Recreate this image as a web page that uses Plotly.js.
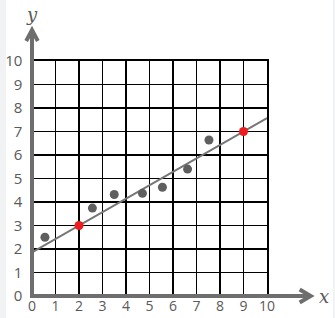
<!DOCTYPE html>
<html><head><meta charset="utf-8">
<script src="https://cdn.plot.ly/plotly-3.0.1.min.js"></script>
<style>
html,body{margin:0;padding:0;}
body{width:335px;height:318px;background:linear-gradient(to right,#f1f2f4 0,#f1f2f4 6px,#ffffff 6px,#ffffff 333px,#f1f2f4 333px);}
#chart{width:335px;height:318px;}
</style></head>
<body><div id="chart"></div>
<script>
// Data
const grayX = [0.55, 2.57, 3.5, 4.7, 5.55, 6.62, 7.53];
const grayY = [2.5, 3.74, 4.32, 4.37, 4.63, 5.4, 6.64];
const redX = [2, 9];
const redY = [3, 7];
const lineX = [0, 10];
const lineY = [1.857, 7.571];
const tickVals = [0,1,2,3,4,5,6,7,8,9,10];
const tickText = ['0','1','2','3','4','5','6','7','8','9','10'];

// Layout geometry (pixels)
const W = 335, H = 318;
const L = 32.3, R = 267.3, T = 61, B = 296;
const pw = R - L, ph = B - T;
const px = v => (v - L) / pw;
const py = v => (B - v) / ph;

const axisColor = '#6e6e6e';
const textColor = '#595959';

const traces = [
  {x: lineX, y: lineY, mode: 'lines', line: {color: '#767676', width: 2}, hoverinfo: 'skip', cliponaxis: true},
  {x: grayX, y: grayY, mode: 'markers', marker: {color: '#5f5f5f', size: 9}},
  {x: redX, y: redY, mode: 'markers', marker: {color: '#ee1c1c', size: 9}}
];

const axisCommon = {
  range: [0, 10], tickvals: tickVals, ticktext: tickText,
  showgrid: true, gridcolor: '#000000', gridwidth: 1.6,
  zeroline: false, showline: true, mirror: true, linecolor: '#000000', linewidth: 1.6,
  ticks: 'outside', ticklen: 5, tickcolor: 'rgba(0,0,0,0)',
  tickfont: {family: 'Open Sans, sans-serif', size: 15, color: textColor},
  fixedrange: true
};

const shapes = [
  // y axis line
  {type: 'line', xref: 'paper', yref: 'paper', x0: px(32.3), x1: px(32.3), y0: py(298), y1: py(30), line: {color: axisColor, width: 4}},
  // x axis line
  {type: 'line', xref: 'paper', yref: 'paper', x0: px(30.3), x1: px(311), y0: py(296), y1: py(296), line: {color: axisColor, width: 4}},
  // y arrow head
  {type: 'path', xref: 'paper', yref: 'paper',
   path: `M ${px(26.5)},${py(41)} L ${px(32.3)},${py(30)} L ${px(38.1)},${py(41)}`,
   line: {color: axisColor, width: 4}},
  // x arrow head
  {type: 'path', xref: 'paper', yref: 'paper',
   path: `M ${px(300)},${py(289.5)} L ${px(311)},${py(296)} L ${px(300)},${py(302.5)}`,
   line: {color: axisColor, width: 4}}
];

const annotations = [
  {xref: 'paper', yref: 'paper', x: px(324), y: py(296), text: '<i>x</i>', showarrow: false,
   font: {family: 'DejaVu Serif, serif', size: 18, color: textColor}, xanchor: 'center', yanchor: 'middle'},
  {xref: 'paper', yref: 'paper', x: px(32.5), y: py(14), text: '<i>y</i>', showarrow: false,
   font: {family: 'DejaVu Serif, serif', size: 18, color: textColor}, xanchor: 'center', yanchor: 'middle'}
];

const layout = {
  width: W, height: H,
  margin: {l: L, r: W - R, t: T, b: H - B, pad: 0},
  paper_bgcolor: 'rgba(0,0,0,0)', plot_bgcolor: '#ffffff',
  showlegend: false,
  xaxis: Object.assign({}, axisCommon, {ticks: '', ticklen: 0, ticklabelstandoff: -3,
    tickfont: {family: 'Open Sans, sans-serif', size: 14, color: textColor}}),
  yaxis: Object.assign({}, axisCommon),
  shapes: shapes, annotations: annotations
};

Plotly.newPlot('chart', traces, layout, {staticPlot: true, displayModeBar: false});
</script>
</body></html>
